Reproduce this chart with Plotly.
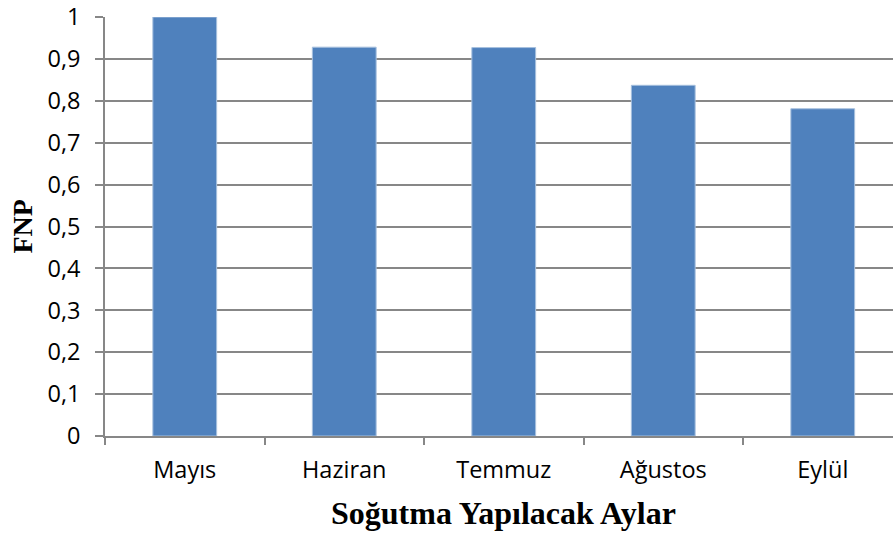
import plotly.graph_objects as go

months = ["Mayıs", "Haziran", "Temmuz", "Ağustos", "Eylül"]
fnp = [1.0, 0.928, 0.927, 0.837, 0.781]
x_title = "Soğutma Yapılacak Aylar"
y_title = "FNP"

W, H = 893, 533
L, T, B = 105, 17, 97
plot_w = W - L
plot_h = H - T - B
unit = 159.5  # px per category
x_max = -0.5 + plot_w / unit

fig = go.Figure(go.Bar(
    x=months, y=fnp, width=0.4,
    marker=dict(color="#4F81BD", line=dict(color="#A7C0DE", width=1)),
))

grid = "#878787"
fig.update_layout(
    width=W, height=H,
    margin=dict(l=L, r=0, t=T, b=B, autoexpand=False),
    plot_bgcolor="white", paper_bgcolor="white",
    separators=", ",
    showlegend=False,
    font=dict(family="Open Sans", size=18, color="black"),
    xaxis=dict(
        type="category", range=[-0.5, x_max], automargin=False,
        showline=True, linecolor=grid, linewidth=1.5,
        ticks="outside", tickson="boundaries", ticklen=7, tickcolor=grid, tickwidth=1.5,
        showgrid=False, ticklabelstandoff=12,
        tickfont=dict(family="Open Sans", size=23.5, color="black"),
    ),
    yaxis=dict(
        range=[0, 1], dtick=0.1, tick0=0, automargin=False,
        showline=True, linecolor=grid, linewidth=1.5,
        ticks="outside", ticklen=8, tickcolor=grid, tickwidth=1.5,
        showgrid=True, gridcolor=grid, gridwidth=1.5,
        zeroline=False, ticklabelstandoff=10, ticklabeloverflow="allow",
        tickfont=dict(family="Open Sans", size=23.5, color="black"),
    ),
    annotations=[
        dict(text=f"<b>{x_title}</b>", x=2, xref="x", y=-(513 - (T + plot_h)) / plot_h,
             yref="paper", yanchor="middle", xanchor="center", showarrow=False,
             font=dict(family="Liberation Serif", size=32, color="black")),
        dict(text=f"<b>{y_title}</b>", x=(22 - L) / plot_w, xref="paper", y=0.5, yref="paper",
             textangle=-90, showarrow=False, xanchor="center", yanchor="middle",
             font=dict(family="Liberation Serif", size=28, color="black")),
    ],
)
fig.write_html("out.html", config={"displayModeBar": False},
               post_script="document.body.style.margin='0px';")
